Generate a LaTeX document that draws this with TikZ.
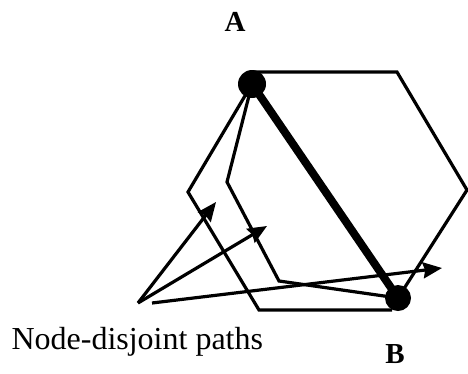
\documentclass[tikz,border=0pt]{standalone}
\usepackage{fontspec}
\setmainfont{Liberation Serif}
\usetikzlibrary{arrows.meta}

\begin{document}
\begin{tikzpicture}[
    x=1pt, y=-1pt,
    route/.style={line width=3.2pt, line join=miter},
    direct/.style={line width=8pt},
    ptr/.style={line width=3.2pt, -{Stealth[length=19pt, width=16pt, inset=2pt]}},
    dot/.style={circle, fill=black, minimum size=28pt, inner sep=0pt},
    lbl/.style={font=\fontsize{29}{29}\selectfont\bfseries, anchor=base},
  ]
    \useasboundingbox (0,0) rectangle (468,373);

    % End points and bends
    \coordinate (A) at (252,84);
    \coordinate (B) at (398,298);
    \coordinate (hexTL) at (252,72);
    \coordinate (hexTR) at (397,72);
    \coordinate (hexR)  at (467,190);
    \coordinate (leftA) at (188,192);
    \coordinate (leftB) at (259,310);
    \coordinate (leftC) at (392,310);
    \coordinate (midA)  at (227,182);
    \coordinate (midB)  at (279,281);

    % The node-disjoint paths
    \draw[route] (hexTL) -- (hexTR) -- (hexR) -- (B);
    \draw[route] (A) -- (leftA) -- (leftB) -- (leftC);
    \draw[route] (A) -- (midA) -- (midB) -- (B);
    \draw[direct] (A) -- (B);

    % End nodes
    \node[dot] (dotA) at (A) {};
    \node[dot, minimum size=26pt] (dotB) at (B) {};
    \node[lbl] (labA) at (235,31) {A};
    \node[lbl] (labB) at (395,363) {B};

    % Caption and its pointers
    \node[font=\fontsize{32}{32}\selectfont, anchor=base west] (caption) at (8,349) {Node-disjoint paths};
    \coordinate (src)  at (138,303);
    \coordinate (src2) at (152,303);
    \coordinate (tipL) at (216,202);
    \coordinate (tipM) at (267,226);
    \coordinate (tipR) at (442,268);
    \draw[ptr] (src) -- (tipL);
    \draw[ptr] (src) -- (tipM);
    \draw[ptr] (src2) -- (tipR);
\end{tikzpicture}
\end{document}
